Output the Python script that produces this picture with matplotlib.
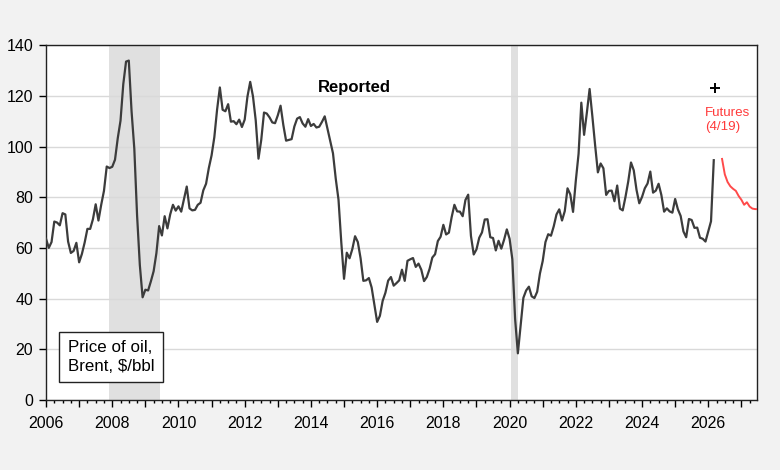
import numpy as np
import matplotlib
matplotlib.use("Agg")
import matplotlib.pyplot as plt
from matplotlib.ticker import MultipleLocator, FuncFormatter

plt.rcParams['font.family'] = ['Liberation Sans', 'DejaVu Sans']

# -------------------------------------------------------
# Brent, monthly average, $/bbl (2006M01 .. 2026M03)
brent = [
    63.6, 60.0, 62.3, 70.4, 70.0, 68.9, 73.7, 73.2, 62.5, 58.0, 58.8, 62.0,        # 2006
    54.3, 57.6, 62.1, 67.5, 67.5, 71.3, 77.2, 70.8, 77.0, 82.5, 92.1, 91.5,        # 2007
    92.0, 94.8, 103.3, 110.2, 124.6, 133.5, 133.9, 113.9, 99.1, 72.8, 53.2, 40.5,  # 2008
    43.5, 43.2, 46.8, 50.8, 57.9, 68.6, 64.9, 72.5, 67.7, 73.2, 77.0, 74.7,        # 2009
    76.4, 74.3, 79.3, 84.2, 75.6, 74.8, 75.0, 77.0, 77.8, 82.7, 85.3, 91.5,        # 2010
    96.5, 103.7, 114.6, 123.3, 114.5, 113.9, 116.7, 109.8, 110.0, 108.8, 110.6, 107.7,  # 2011
    110.6, 119.7, 125.5, 119.8, 110.3, 95.2, 102.6, 113.4, 113.0, 111.5, 109.5, 109.2,  # 2012
    112.3, 116.1, 108.5, 102.3, 102.6, 102.9, 107.9, 111.0, 111.6, 109.1, 107.8, 110.8,  # 2013
    108.1, 108.9, 107.5, 107.8, 109.7, 111.9, 107.0, 101.9, 97.3, 87.3, 79.0, 62.3,  # 2014
    47.8, 58.1, 55.9, 59.5, 64.6, 62.3, 55.9, 47.0, 47.2, 48.1, 44.4, 37.7,        # 2015
    30.8, 33.2, 39.1, 42.3, 47.1, 48.5, 45.1, 46.1, 47.2, 51.4, 47.0, 54.9,        # 2016
    55.5, 56.0, 52.5, 53.8, 51.4, 46.9, 48.5, 51.7, 56.2, 57.5, 62.7, 64.4,        # 2017
    69.1, 65.3, 66.0, 72.1, 77.0, 74.4, 74.3, 72.5, 78.9, 81.0, 64.7, 57.4,        # 2018
    59.4, 64.0, 66.1, 71.2, 71.3, 64.2, 63.9, 59.0, 62.8, 59.7, 63.2, 67.3,        # 2019
    63.6, 55.5, 32.0, 18.4, 29.4, 40.3, 43.2, 44.7, 40.9, 40.2, 42.7, 49.9,        # 2020
    54.8, 62.3, 65.4, 64.8, 68.5, 73.2, 75.2, 70.8, 74.5, 83.5, 81.1, 74.2,        # 2021
    86.5, 97.1, 117.3, 104.6, 113.3, 122.7, 111.9, 100.5, 89.8, 93.3, 91.4, 80.9,  # 2022
    82.5, 82.6, 78.4, 84.6, 75.5, 74.8, 80.1, 86.2, 93.7, 90.6, 82.9, 77.6,        # 2023
    80.1, 83.5, 85.4, 90.1, 81.8, 82.6, 85.3, 80.9, 74.3, 75.6, 74.4, 73.9,        # 2024
    79.3, 75.2, 72.6, 66.5, 64.2, 71.4, 71.0, 67.9, 68.0, 64.0, 63.6, 62.5,        # 2025
    66.5, 70.5, 94.6,                                                              # 2026
]
brent_start = 2006.0

# futures curve as of 4/19, 2026M06 .. 2027M07
futures = [95.1, 89.0, 86.0, 84.3, 83.3, 82.5, 80.5, 79.0, 77.0, 78.0, 76.3, 75.5, 75.3, 75.3]
futures_start = 2026 + 5/12

# single "+" mark
plus_x = [2026.2]
plus_y = [123.0]

# NBER recessions
recessions = [(2007 + 11/12, 2009.45), (2020.05, 2020.25)]

# -------------------------------------------------------
x_brent = brent_start + np.arange(len(brent)) / 12
x_fut = futures_start + np.arange(len(futures)) / 12

fig = plt.figure(figsize=(7.8, 4.7), dpi=100, facecolor='#f2f2f2')
ax = fig.add_axes([0.059, 0.149, 0.911, 0.755])
ax.set_facecolor('white')

for a, b in recessions:
    ax.axvspan(a, b, color='#e0e0e0', lw=0, zorder=0)

ax.set_ylim(0, 140)
ax.set_xlim(2006.0, 2027.46)
ax.yaxis.set_major_locator(MultipleLocator(20))
ax.grid(axis='y', color='#d9d9d9', lw=1, zorder=1)

ax.plot(x_brent, brent, color='#3c3c3c', lw=1.6, zorder=3)
ax.plot(x_fut, futures, color='#ff4a4a', lw=1.4, zorder=3)
ax.plot(plus_x, plus_y, 'k+', ms=6.5, mew=1.4, zorder=4)

# axes / ticks
ax.xaxis.set_major_locator(MultipleLocator(1))
ax.xaxis.set_minor_locator(MultipleLocator(0.25))
ax.xaxis.set_major_formatter(FuncFormatter(lambda v, p: str(int(round(v))) if int(round(v)) % 2 == 0 else ''))
ax.tick_params(axis='both', which='major', direction='out', length=4.8, width=1, labelsize=11.5)
ax.tick_params(axis='x', which='major', pad=7)
ax.tick_params(axis='y', which='major', pad=4.5)
ax.tick_params(axis='x', which='minor', direction='out', length=2.4, width=1)
for s in ax.spines.values():
    s.set_linewidth(1)
    s.set_color('#222222')

ax.text(2015.3, 123.3, 'Reported', fontsize=12, fontweight='bold', ha='center', va='center')
ax.text(2025.9, 110.3, 'Futures\n(4/19)', fontsize=9.6, color='#ff3a3a', ha='left', va='center', linespacing=1.2)
ax.text(2006.65, 17.0, 'Price of oil,\nBrent, $/bbl', fontsize=12.2, ha='left', va='center', linespacing=1.3,
        bbox=dict(boxstyle='square,pad=0.5', fc='white', ec='#222222', lw=1))

fig.savefig('out.png', dpi=100, facecolor=fig.get_facecolor())
